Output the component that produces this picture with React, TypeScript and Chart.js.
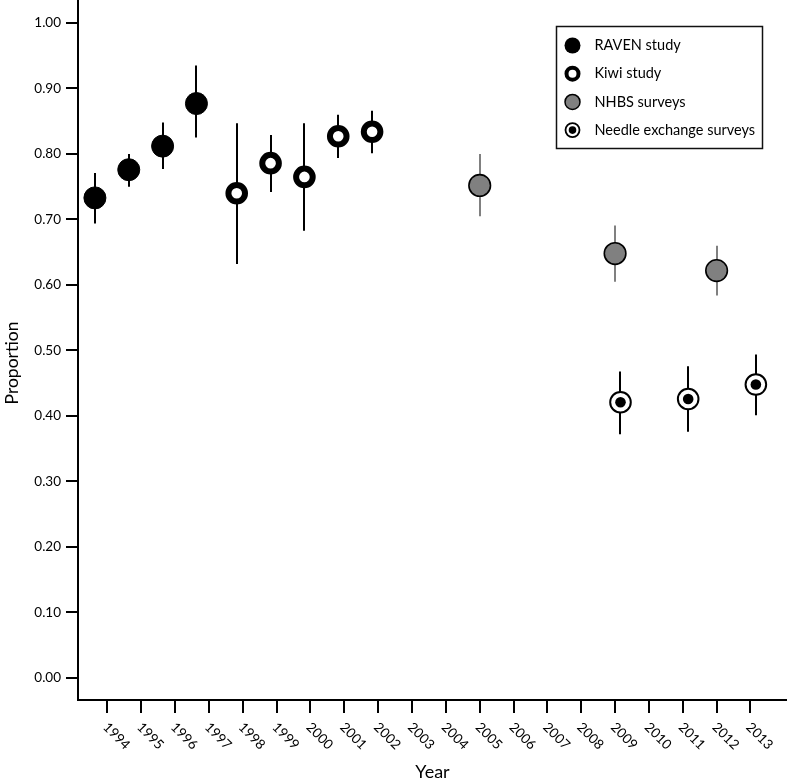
import React, { useEffect, useRef } from 'react';
import { Chart, registerables } from 'chart.js';

Chart.register(...registerables);

// ---- Data ----
const yearTicks = [1994, 1995, 1996, 1997, 1998, 1999, 2000, 2001, 2002, 2003, 2004, 2005, 2006, 2007, 2008, 2009, 2010, 2011, 2012, 2013];
const yTicks = [0, 0.1, 0.2, 0.3, 0.4, 0.5, 0.6, 0.7, 0.8, 0.9, 1.0];

const ravenYears = [1994, 1995, 1996, 1997];
const ravenValues = [0.733, 0.776, 0.812, 0.877];
const ravenLower = [0.694, 0.750, 0.777, 0.825];
const ravenUpper = [0.771, 0.800, 0.848, 0.935];

const kiwiYears = [1998, 1999, 2000, 2001, 2002];
const kiwiValues = [0.740, 0.786, 0.765, 0.827, 0.834];
const kiwiLower = [0.632, 0.742, 0.683, 0.794, 0.801];
const kiwiUpper = [0.847, 0.829, 0.847, 0.860, 0.866];

const nhbsYears = [2005, 2009, 2012];
const nhbsValues = [0.752, 0.648, 0.622];
const nhbsLower = [0.705, 0.605, 0.584];
const nhbsUpper = [0.800, 0.691, 0.660];

const needleYears = [2009, 2011, 2013];
const needleValues = [0.421, 0.426, 0.448];
const needleLower = [0.372, 0.376, 0.401];
const needleUpper = [0.468, 0.476, 0.494];

const FONT = 'Lato, "Open Sans", sans-serif';

function build(years: number[], vals: number[], lo: number[], hi: number[], dodge: number) {
  return years.map((yr, i) => ({ x: yr + dodge, y: vals[i], lo: lo[i], hi: hi[i] }));
}

const errorBarPlugin = {
  id: 'errorBars',
  beforeDatasetsDraw(chart: any) {
    const { ctx, scales } = chart;
    const xs = scales.x;
    const ys = scales.y;
    chart.data.datasets.forEach((ds: any) => {
      if (!ds.errColor) return;
      ctx.save();
      ctx.strokeStyle = ds.errColor;
      ctx.lineWidth = 2;
      ds.data.forEach((d: any) => {
        const px = Math.round(xs.getPixelForValue(d.x));
        ctx.beginPath();
        ctx.moveTo(px, ys.getPixelForValue(d.hi));
        ctx.lineTo(px, ys.getPixelForValue(d.lo));
        ctx.stroke();
      });
      ctx.restore();
    });
  },
};

const customTextPlugin = {
  id: 'customText',
  afterDraw(chart: any) {
    const { ctx, scales, chartArea } = chart;
    const xs = scales.x;
    ctx.save();
    ctx.fillStyle = '#000';
    ctx.font = `13.5px ${FONT}`;
    ctx.textAlign = 'left';
    ctx.textBaseline = 'middle';
    xs.ticks.forEach((t: any) => {
      const px = xs.getPixelForValue(t.value);
      ctx.save();
      ctx.translate(px - 2, 725);
      ctx.rotate((45 * Math.PI) / 180);
      ctx.fillText(String(t.value), 0, 0);
      ctx.restore();
    });

    // y-axis title
    ctx.save();
    ctx.font = `17.5px ${FONT}`;
    ctx.textAlign = 'center';
    ctx.textBaseline = 'middle';
    ctx.translate(12, (chartArea.top + chartArea.bottom) / 2 + 13);
    ctx.rotate(-Math.PI / 2);
    ctx.fillText('Proportion', 0, 0);
    ctx.restore();
    ctx.restore();

    // legend
    const bx = 556.5, by = 26.5, bw = 206, bh = 122;
    ctx.save();
    ctx.strokeStyle = '#111';
    ctx.lineWidth = 1.5;
    ctx.strokeRect(bx, by, bw, bh);
    const items = chart.data.datasets.filter((d: any) => d.legendKind);
    items.forEach((d: any, i: number) => {
      const cx = 572.5;
      const cy = 45.5 + i * 28.2;
      ctx.beginPath();
      if (d.legendKind === 'filled') {
        ctx.arc(cx, cy, 8, 0, Math.PI * 2);
        ctx.fillStyle = '#000';
        ctx.fill();
      } else if (d.legendKind === 'ring') {
        ctx.arc(cx, cy, 6, 0, Math.PI * 2);
        ctx.fillStyle = '#fff';
        ctx.fill();
        ctx.lineWidth = 4;
        ctx.strokeStyle = '#000';
        ctx.stroke();
      } else if (d.legendKind === 'grey') {
        ctx.arc(cx, cy, 7.5, 0, Math.PI * 2);
        ctx.fillStyle = '#808080';
        ctx.fill();
        ctx.lineWidth = 1.5;
        ctx.strokeStyle = '#000';
        ctx.stroke();
      } else if (d.legendKind === 'target') {
        ctx.arc(cx, cy, 7, 0, Math.PI * 2);
        ctx.fillStyle = '#fff';
        ctx.fill();
        ctx.lineWidth = 1.8;
        ctx.strokeStyle = '#000';
        ctx.stroke();
        ctx.beginPath();
        ctx.arc(cx, cy, 3.8, 0, Math.PI * 2);
        ctx.fillStyle = '#000';
        ctx.fill();
      }
      ctx.fillStyle = '#000';
      ctx.font = `14.5px ${FONT}`;
      ctx.textAlign = 'left';
      ctx.textBaseline = 'middle';
      ctx.fillText(d.label, 594.5, cy);
    });
    ctx.restore();
  },
};

export default function App() {
  const ref = useRef<HTMLCanvasElement | null>(null);

  useEffect(() => {
    document.body.style.margin = '0';
    const canvas = ref.current;
    if (!canvas) return;

    const datasets: any[] = [
      {
        label: 'RAVEN study',
        legendKind: 'filled',
        errColor: '#000',
        data: build(ravenYears, ravenValues, ravenLower, ravenUpper, -0.37),
        pointRadius: 11,
        pointBackgroundColor: '#000',
        pointBorderColor: '#000',
        pointBorderWidth: 1,
        order: 2,
      },
      {
        label: 'Kiwi study',
        legendKind: 'ring',
        errColor: '#000',
        data: build(kiwiYears, kiwiValues, kiwiLower, kiwiUpper, -0.18),
        pointRadius: 8.3,
        pointBackgroundColor: '#fff',
        pointBorderColor: '#000',
        pointBorderWidth: 6,
        order: 2,
      },
      {
        label: 'NHBS surveys',
        legendKind: 'grey',
        errColor: '#808080',
        data: build(nhbsYears, nhbsValues, nhbsLower, nhbsUpper, 0),
        pointRadius: 10.8,
        pointBackgroundColor: '#808080',
        pointBorderColor: '#000',
        pointBorderWidth: 1.6,
        order: 2,
      },
      {
        label: 'Needle exchange surveys',
        legendKind: 'target',
        errColor: '#000',
        data: build(needleYears, needleValues, needleLower, needleUpper, 0.16),
        pointRadius: 10.3,
        pointBackgroundColor: '#fff',
        pointBorderColor: '#000',
        pointBorderWidth: 2,
        order: 2,
      },
      {
        label: '',
        data: build(needleYears, needleValues, needleLower, needleUpper, 0.16),
        pointRadius: 5.3,
        pointBackgroundColor: '#000',
        pointBorderColor: '#000',
        pointBorderWidth: 0,
        order: 1,
      },
    ];

    const chart = new Chart(canvas, {
      type: 'scatter',
      data: { datasets },
      plugins: [errorBarPlugin, customTextPlugin],
      options: {
        animation: false,
        responsive: false,
        devicePixelRatio: 1,
        events: [],
        layout: { padding: 0, autoPadding: false },
        plugins: {
          legend: { display: false },
          tooltip: { enabled: false },
        },
        elements: { point: { hoverRadius: 0 } },
        scales: {
          x: {
            type: 'linear',
            min: 1993.13,
            max: 2014.08,
            afterBuildTicks: (scale: any) => {
              scale.ticks = yearTicks.map((v) => ({ value: v }));
            },
            afterFit: (scale: any) => {
              scale.height = 82;
              scale.paddingLeft = 0;
              scale.paddingRight = 0;
            },
            ticks: { display: false },
            grid: {
              drawOnChartArea: false,
              drawTicks: true,
              tickLength: 13,
              color: '#000',
              lineWidth: 2,
            },
            border: { display: true, color: '#000', width: 2 },
            title: {
              display: true,
              text: 'Year',
              color: '#000',
              font: { family: FONT, size: 18 },
              padding: { top: 0, bottom: -1 },
            },
          },
          y: {
            type: 'linear',
            min: -0.0336,
            max: 1.0351,
            afterBuildTicks: (scale: any) => {
              scale.ticks = yTicks.map((v) => ({ value: v }));
            },
            afterFit: (scale: any) => {
              scale.width = 78;
              scale.paddingTop = 0;
              scale.paddingBottom = 0;
            },
            ticks: {
              color: '#000',
              padding: 5,
              font: { family: FONT, size: 13.5 },
              callback: (v: any) => Number(v).toFixed(2),
            },
            grid: {
              drawOnChartArea: false,
              drawTicks: true,
              tickLength: 12,
              color: '#000',
              lineWidth: 2,
            },
            border: { display: true, color: '#000', width: 2 },
            title: { display: false },
          },
        },
      },
    });
    return () => chart.destroy();
  }, []);

  return (
    <div style={{ width: 787, height: 782, background: '#fff' }}>
      <canvas ref={ref} width={787} height={782} style={{ display: 'block' }} />
    </div>
  );
}
